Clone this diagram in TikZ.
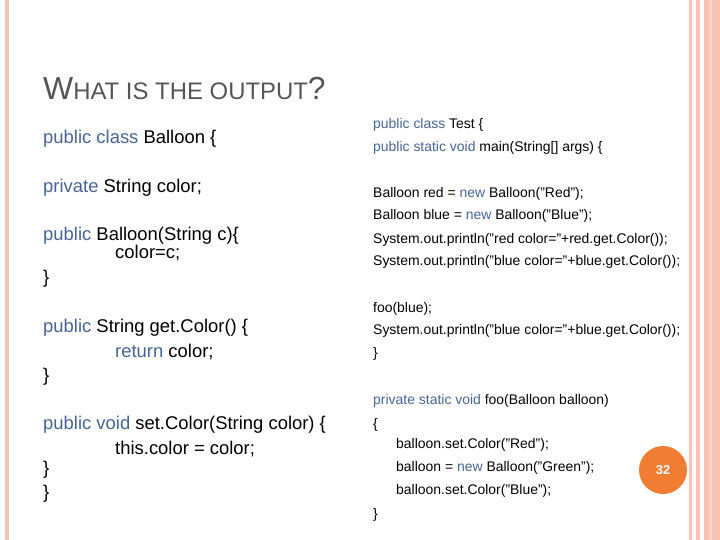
\documentclass[tikz,border=0pt]{standalone}
\usepackage{fontspec}
\setmainfont{Liberation Sans}
\definecolor{kw}{RGB}{70,100,150}
\definecolor{peach}{RGB}{248,196,176}
\definecolor{ttl}{RGB}{85,85,85}
\definecolor{badge}{RGB}{240,125,50}
\newcommand{\kw}[1]{\textcolor{kw}{#1}}
\newcommand{\q}{\char"22\relax}
\begin{document}
\begin{tikzpicture}[x=1bp,y=-1bp,
  every node/.style={anchor=base west,inner sep=0pt},
  lcode/.style={font=\fontsize{18.5}{20}\selectfont},
  rcode/.style={font=\fontsize{14}{16}\selectfont}]
	\useasboundingbox (0,0) rectangle (720,540);
	% borders
	\fill[peach] (5,0) rectangle (9,540);
	\fill[peach] (689,0) rectangle (692,540);
	\fill[peach] (696,0) rectangle (700,540);
	\fill[peach] (704,0) rectangle (720,540);
	\fill[peach!70!white] (709,0) rectangle (712,540);
	% title
	\node[text=ttl] (title) at (43,100) {\fontsize{32}{34}\selectfont W\fontsize{24}{26}\selectfont HAT IS THE OUTPUT\fontsize{32}{34}\selectfont ?};
	% left column
	\node[lcode] (l1) at (43,144) {\kw{public class} Balloon \{};
	\node[lcode] (l2) at (43,193) {\kw{private} String color;};
	\node[lcode] (l3) at (43,241) {\kw{public} Balloon(String c)\{};
	\node[lcode] (l4) at (115,259) {color=c;};
	\node[lcode] (l5) at (43,284) {\}};
	\node[lcode] (l6) at (43,332) {\kw{public} String get.Color() \{};
	\node[lcode] (l7) at (115,357) {\kw{return} color;};
	\node[lcode] (l8) at (43,381) {\}};
	\node[lcode] (l9) at (43,429) {\kw{public void} set.Color(String color) \{};
	\node[lcode] (l10) at (115,454) {this.color = color;};
	\node[lcode] (l11) at (43,474) {\}};
	\node[lcode] (l12) at (43,498) {\}};
	% right column
	\node[rcode] (r1) at (373,129) {\kw{public class} Test \{};
	\node[rcode] (r2) at (373,152) {\kw{public static void} main(String[] args) \{};
	\node[rcode] (r3) at (373,198) {Balloon red = \kw{new} Balloon(\q Red\q);};
	\node[rcode] (r4) at (373,220) {Balloon blue = \kw{new} Balloon(\q Blue\q);};
	\node[rcode] (r5) at (373,244) {System.out.println(\q red color=\q+red.get.Color());};
	\node[rcode] (r6) at (373,266) {System.out.println(\q blue color=\q+blue.get.Color());};
	\node[rcode] (r7) at (373,312) {foo(blue);};
	\node[rcode] (r8) at (373,334) {System.out.println(\q blue color=\q+blue.get.Color());};
	\node[rcode] (r9) at (373,357) {\}};
	\node[rcode] (r10) at (373,404) {\kw{private static void} foo(Balloon balloon)};
	\node[rcode] (r11) at (373,428) {\{};
	\node[rcode] (r12) at (396,448) {balloon.set.Color(\q Red\q);};
	\node[rcode] (r13) at (396,471) {balloon = \kw{new} Balloon(\q Green\q);};
	\node[rcode] (r14) at (396,494) {balloon.set.Color(\q Blue\q);};
	\node[rcode] (r15) at (373,518) {\}};
	% page badge
	\node[circle,fill=badge,minimum size=48bp,anchor=center,text=white,font=\bfseries\fontsize{13}{15}\selectfont] (page) at (663,470) {32};
\end{tikzpicture}
\end{document}
